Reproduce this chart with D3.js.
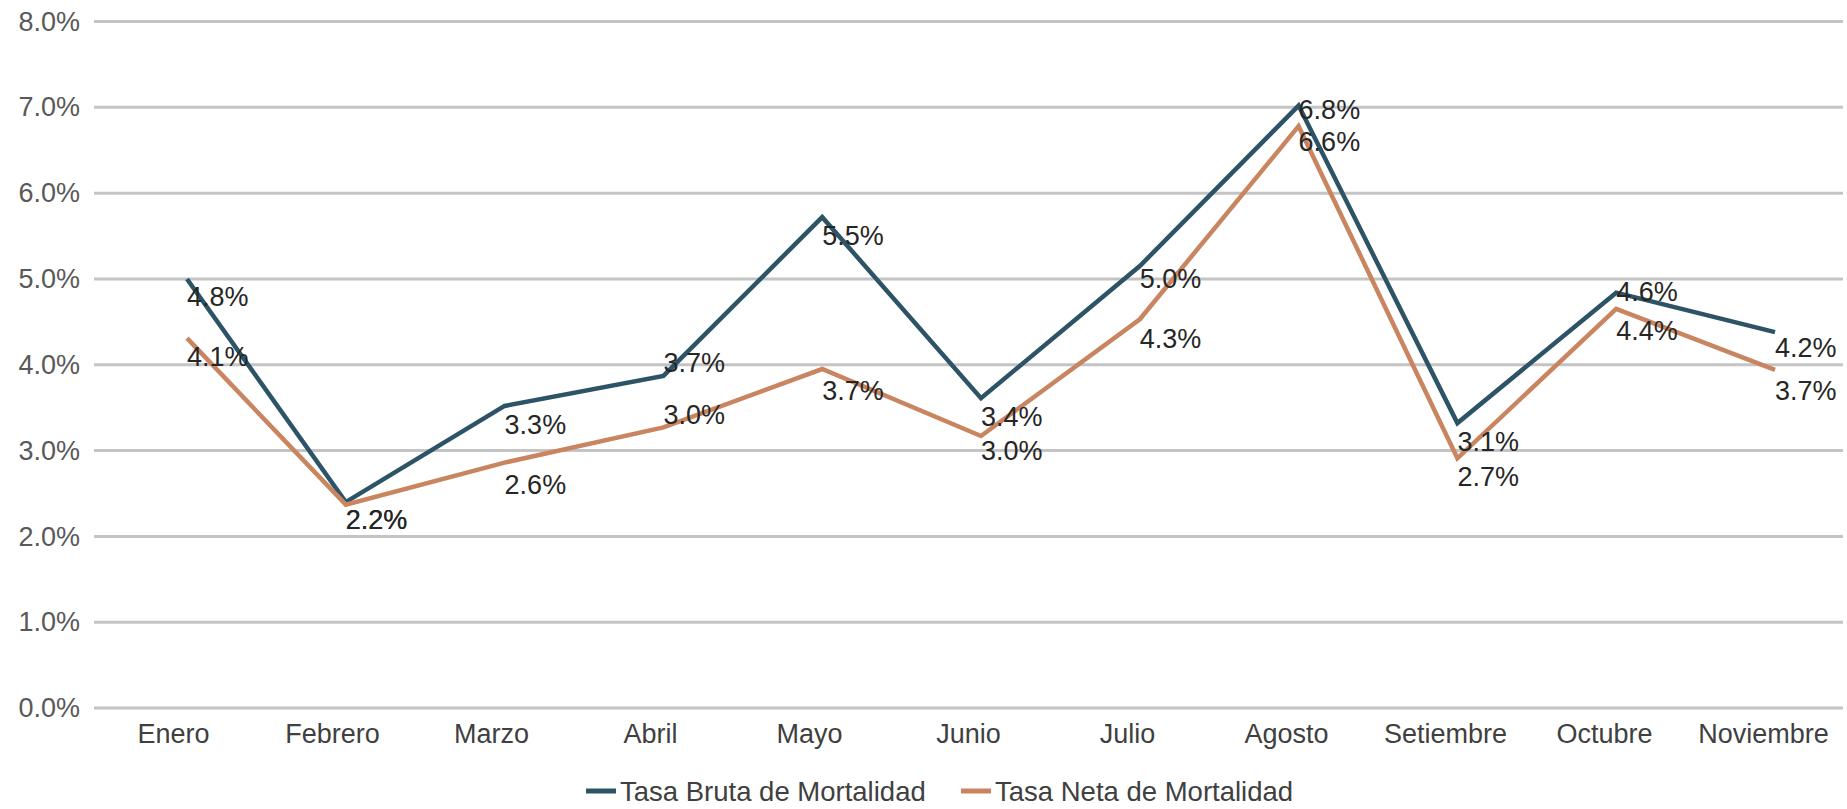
<!DOCTYPE html>
<html>
<head>
<meta charset="utf-8">
<script src="https://cdn.jsdelivr.net/npm/d3@7"></script>
<style>
  html, body { margin: 0; padding: 0; background: #fff; }
</style>
</head>
<body>
<svg id="chart"></svg>
<script>
const width = 1847;
const height = 809;
const fontFamily = `"Liberation Sans", Arial, Helvetica, sans-serif`;

const months = ["Enero", "Febrero", "Marzo", "Abril", "Mayo", "Junio", "Julio", "Agosto", "Setiembre", "Octubre", "Noviembre"];
const yTicks = [0, 1, 2, 3, 4, 5, 6, 7, 8];

// line positions as they appear on the picture (in %)
const brutaValues = [5.00, 2.40, 3.52, 3.87, 5.72, 3.61, 5.15, 7.02, 3.32, 4.84, 4.38];
const netaValues = [4.31, 2.37, 2.86, 3.27, 3.95, 3.17, 4.53, 6.78, 2.91, 4.65, 3.94];

// printed data labels
const brutaLabels = ["4.8%", "2.2%", "3.3%", "3.7%", "5.5%", "3.4%", "5.0%", "6.8%", "3.1%", "4.6%", "4.2%"];
const netaLabels = ["4.1%", "2.2%", "2.6%", "3.0%", "3.7%", "3.0%", "4.3%", "6.6%", "2.7%", "4.4%", "3.7%"];

const series = [
  { name: "Tasa Bruta de Mortalidad", color: "#2d5366", values: brutaValues, labels: brutaLabels },
  { name: "Tasa Neta de Mortalidad", color: "#c98560", values: netaValues, labels: netaLabels },
];

const margin = { top: 21.5, right: 4, bottom: 101, left: 94 };

const svg = d3.select("#chart")
  .attr("width", width)
  .attr("height", height)
  .attr("font-family", fontFamily);

const x = d3.scaleBand()
  .domain(months)
  .range([margin.left, width - margin.right]);

// the plotted points sit a bit to the right of the category labels
const xPoint = d3.scalePoint()
  .domain(months)
  .range([187, 1775]);

const y = d3.scaleLinear()
  .domain([0, 8])
  .range([height - margin.bottom, margin.top]);

// gridlines
svg.append("g")
  .attr("id", "grid")
  .selectAll("line")
  .data(yTicks)
  .enter()
  .append("line")
  .attr("x1", margin.left)
  .attr("x2", width - margin.right)
  .attr("y1", (d) => y(d))
  .attr("y2", (d) => y(d))
  .attr("stroke", "#c4c4c4")
  .attr("stroke-width", 3);

// y axis labels
const yAxis = svg.append("g")
  .attr("transform", `translate(${margin.left - 14}, 0)`)
  .call(d3.axisLeft(y).tickValues(yTicks).tickSize(0).tickPadding(0).tickFormat((d) => d.toFixed(1) + "%"));
yAxis.select(".domain").remove();
yAxis.selectAll("text")
  .attr("font-size", 27)
  .attr("font-family", fontFamily)
  .attr("fill", "#595959");

// x axis labels
const xAxis = svg.append("g")
  .attr("transform", `translate(0, ${y(0)})`)
  .call(d3.axisBottom(x).tickSize(0).tickPadding(16));
xAxis.select(".domain").remove();
xAxis.selectAll("text")
  .attr("font-size", 27)
  .attr("font-family", fontFamily)
  .attr("fill", "#404040");

const line = d3.line()
  .x((d, i) => xPoint(months[i]))
  .y((d) => y(d));

svg.append("g")
  .attr("id", "lines")
  .selectAll("path")
  .data(series)
  .enter()
  .append("path")
  .attr("d", (d) => line(d.values))
  .attr("fill", "none")
  .attr("stroke", (d) => d.color)
  .attr("stroke-width", 4.5)
  .attr("stroke-linejoin", "miter");

// labels are centred on their own value; a few were pushed up to avoid the other series
const labelNudge = {
  "Tasa Bruta de Mortalidad|Agosto": -15,
  "Tasa Bruta de Mortalidad|Octubre": -22,
  "Tasa Bruta de Mortalidad|Abril": -28,
  "Tasa Neta de Mortalidad|Abril": -36,
};

const labelsGroup = svg.append("g")
  .attr("id", "labels")
  .attr("font-size", 27)
  .attr("fill", "#262626");

series.forEach((s) => {
  labelsGroup.append("g")
    .selectAll("text")
    .data(s.labels)
    .enter()
    .append("text")
    .attr("x", (d, i) => xPoint(months[i]))
    .attr("y", (d, i) => y(parseFloat(d)) + (labelNudge[s.name + "|" + months[i]] || 0))
    .attr("dy", "0.35em")
    .text((d) => d);
});

// legend
const legend = svg.append("g")
  .attr("id", "legend")
  .attr("transform", `translate(586, 791)`)
  .attr("font-size", 27.5)
  .attr("fill", "#404040");

const legendItems = legend.selectAll("g")
  .data(series)
  .enter()
  .append("g")
  .attr("transform", (d, i) => `translate(${i * 375}, 0)`);

legendItems.append("line")
  .attr("x1", 0)
  .attr("x2", 30)
  .attr("stroke", (d) => d.color)
  .attr("stroke-width", 5);

legendItems.append("text")
  .attr("x", 34)
  .attr("dy", "0.35em")
  .text((d) => d.name);
</script>
</body>
</html>
